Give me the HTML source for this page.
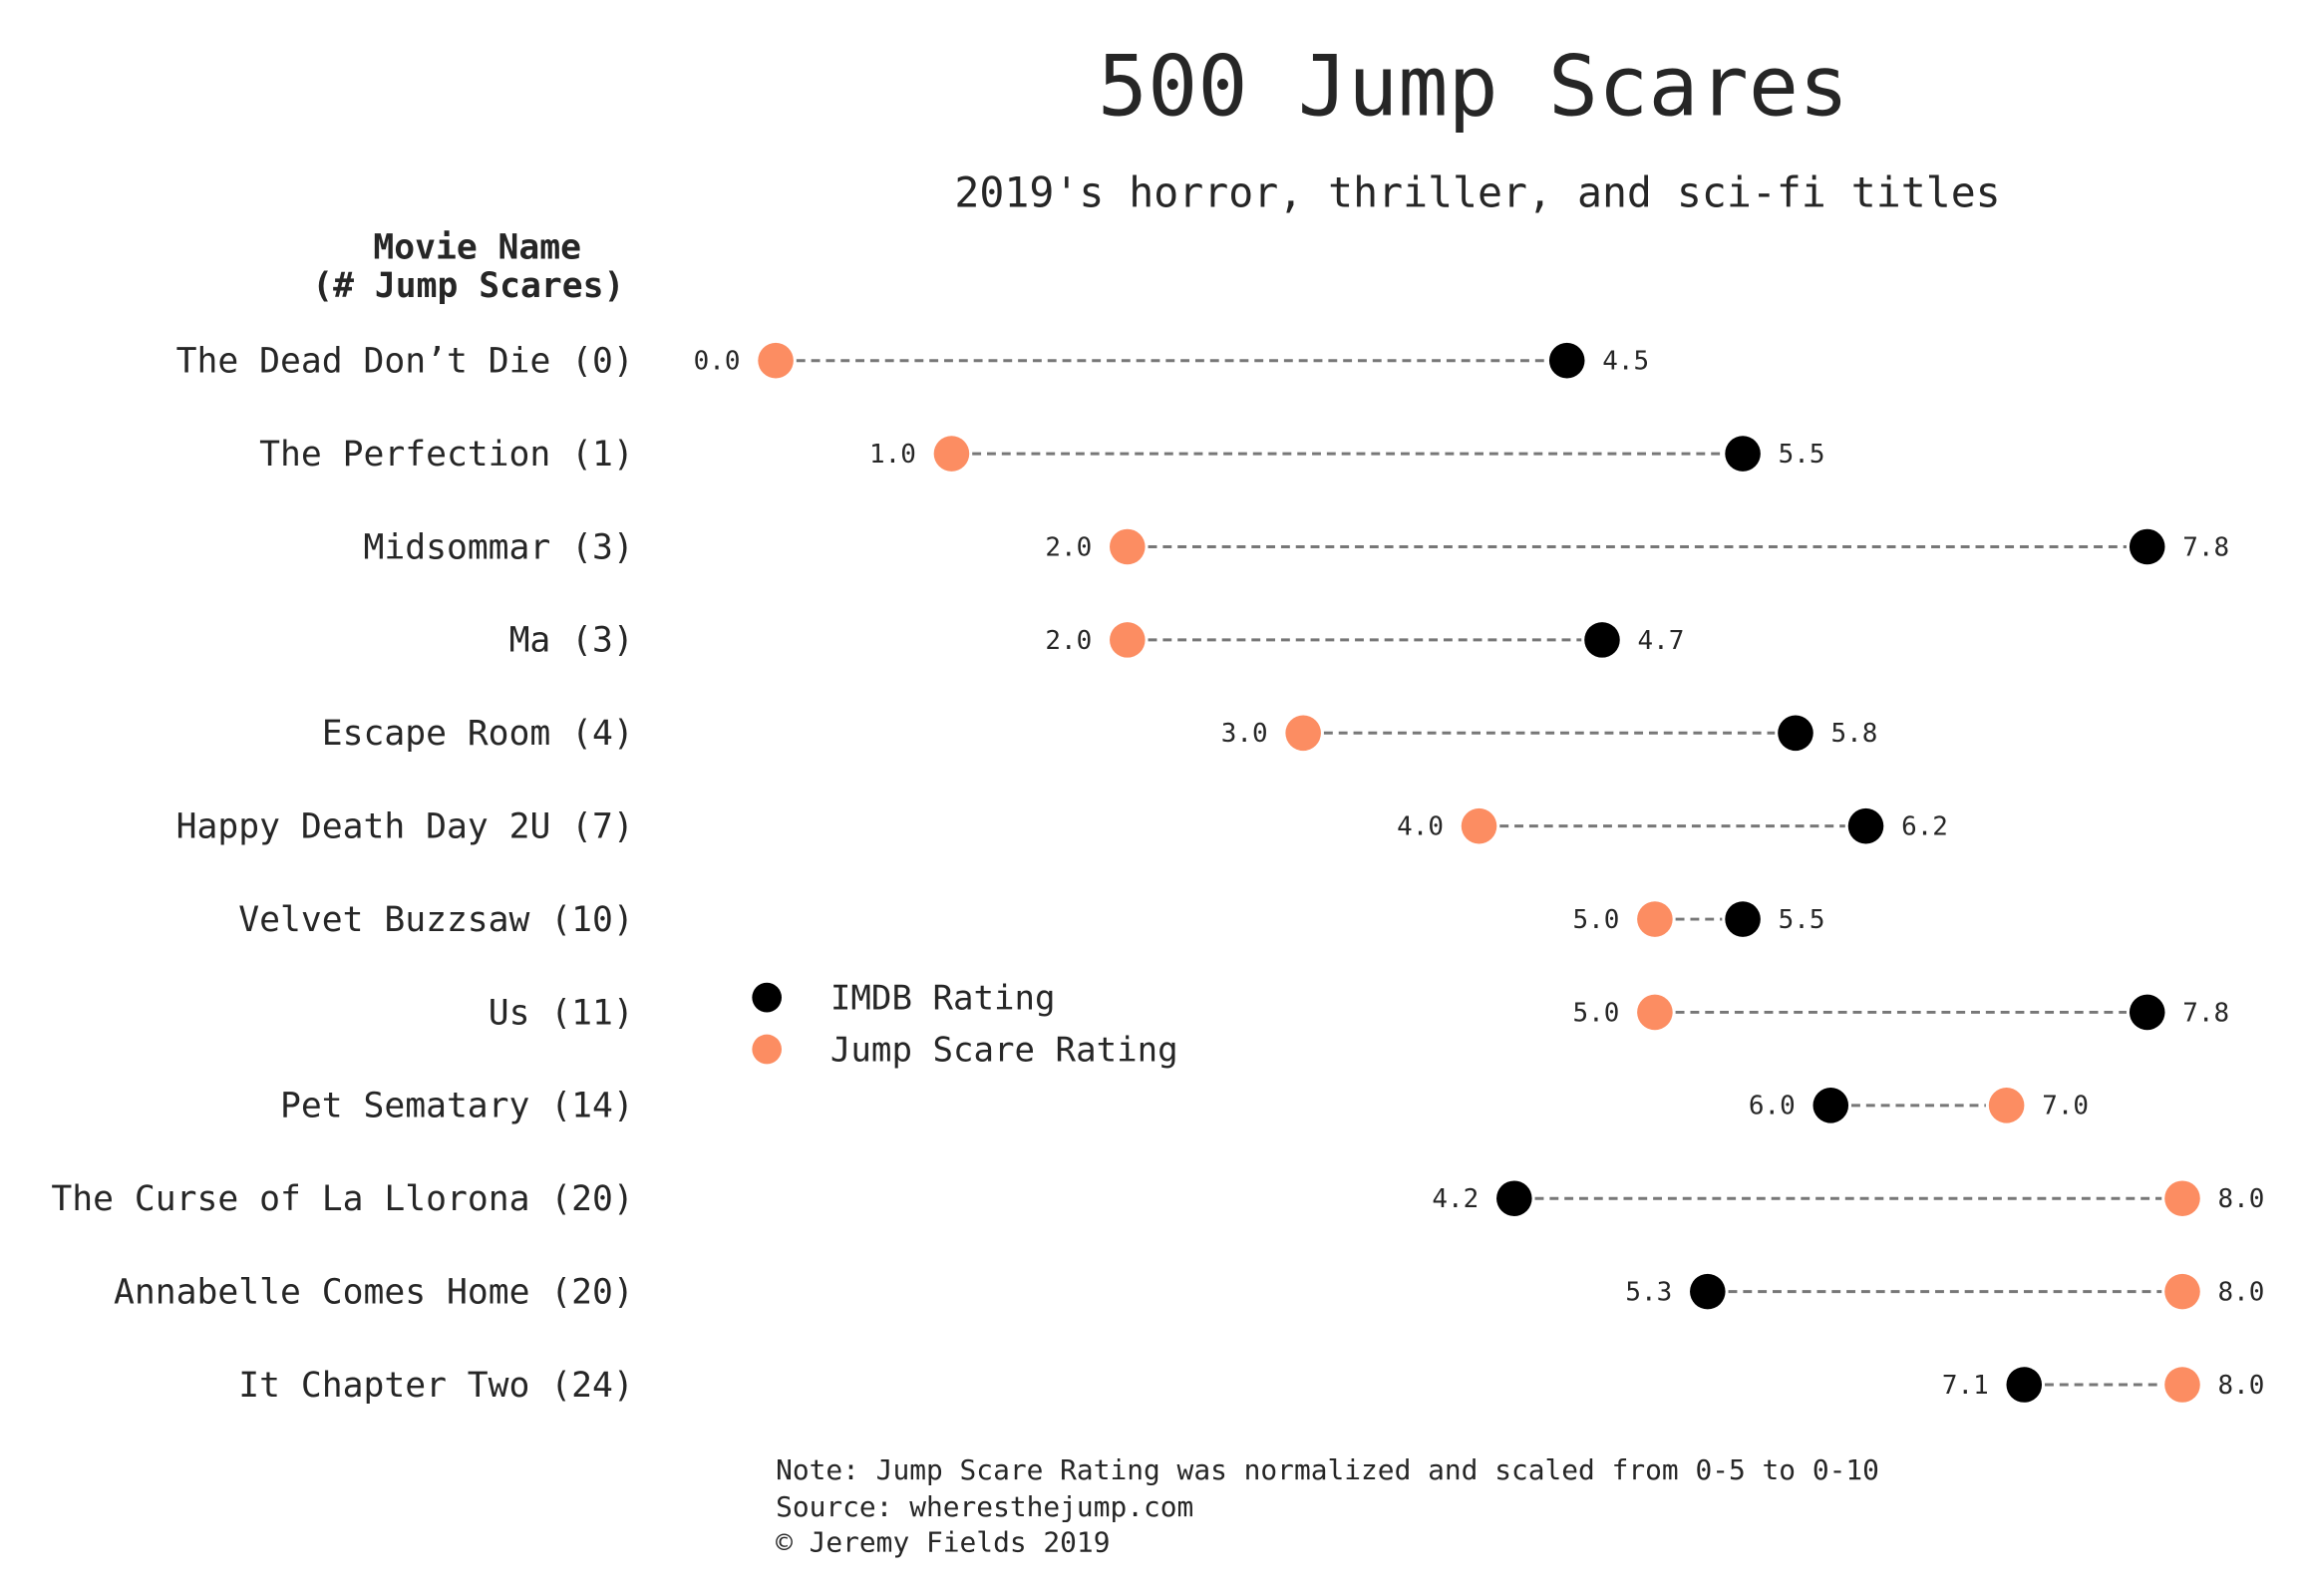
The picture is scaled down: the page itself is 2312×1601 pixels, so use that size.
<!DOCTYPE html>
<html><head><meta charset="utf-8"><style>
html,body{margin:0;padding:0;background:#fff;}
svg{display:block;}
text{font-family:"DejaVu Sans Mono","Liberation Mono",monospace;fill:#262626;}
.l{font-size:23.4px;text-anchor:end;}
.v{font-size:17.5px;}
.e{text-anchor:end;}
line{stroke:#777;stroke-width:2;stroke-dasharray:6,4;}
.k{fill:#000;}
.o{fill:#fc8d62;}
</style></head><body>
<svg width="2312" height="1601" viewBox="0 0 1560 1080" preserveAspectRatio="none" xmlns="http://www.w3.org/2000/svg">
<rect width="1560" height="1080" fill="#fff"/>
<text x="997" y="78" font-size="56.3" text-anchor="middle">500 Jump Scares</text>
<text x="1000" y="140" font-size="28" text-anchor="middle">2019's horror, thriller, and sci-fi titles</text>
<text x="323" y="175" font-size="23.4" font-weight="bold" text-anchor="middle">Movie Name</text>
<text x="317" y="201" font-size="23.4" font-weight="bold" text-anchor="middle">(# Jump Scares)</text>

<text class="l" x="429" y="252">The Dead Don’t Die (0)</text>
<line x1="539" y1="244" x2="1046.5" y2="244"/>
<circle class="k" cx="1060.5" cy="244" r="12"/><circle class="o" cx="525" cy="244" r="12"/>
<text class="v e" x="501" y="250">0.0</text><text class="v" x="1084.5" y="250">4.5</text>

<text class="l" x="429" y="315">The Perfection (1)</text>
<line x1="658" y1="307" x2="1165.5" y2="307"/>
<circle class="k" cx="1179.5" cy="307" r="12"/><circle class="o" cx="644" cy="307" r="12"/>
<text class="v e" x="620" y="313">1.0</text><text class="v" x="1203.5" y="313">5.5</text>

<text class="l" x="429" y="378">Midsommar (3)</text>
<line x1="777" y1="370" x2="1439.2" y2="370"/>
<circle class="k" cx="1453.2" cy="370" r="12"/><circle class="o" cx="763" cy="370" r="12"/>
<text class="v e" x="739" y="376">2.0</text><text class="v" x="1477.2" y="376">7.8</text>

<text class="l" x="429" y="441">Ma (3)</text>
<line x1="777" y1="433" x2="1070.3" y2="433"/>
<circle class="k" cx="1084.3" cy="433" r="12"/><circle class="o" cx="763" cy="433" r="12"/>
<text class="v e" x="739" y="439">2.0</text><text class="v" x="1108.3" y="439">4.7</text>

<text class="l" x="429" y="504">Escape Room (4)</text>
<line x1="896" y1="496" x2="1201.2" y2="496"/>
<circle class="k" cx="1215.2" cy="496" r="12"/><circle class="o" cx="882" cy="496" r="12"/>
<text class="v e" x="858" y="502">3.0</text><text class="v" x="1239.2" y="502">5.8</text>

<text class="l" x="429" y="567">Happy Death Day 2U (7)</text>
<line x1="1015" y1="559" x2="1248.8" y2="559"/>
<circle class="k" cx="1262.8" cy="559" r="12"/><circle class="o" cx="1001" cy="559" r="12"/>
<text class="v e" x="977" y="565">4.0</text><text class="v" x="1286.8" y="565">6.2</text>

<text class="l" x="429" y="630">Velvet Buzzsaw (10)</text>
<line x1="1134" y1="622" x2="1165.5" y2="622"/>
<circle class="k" cx="1179.5" cy="622" r="12"/><circle class="o" cx="1120" cy="622" r="12"/>
<text class="v e" x="1096" y="628">5.0</text><text class="v" x="1203.5" y="628">5.5</text>

<text class="l" x="429" y="693">Us (11)</text>
<line x1="1134" y1="685" x2="1439.2" y2="685"/>
<circle class="k" cx="1453.2" cy="685" r="12"/><circle class="o" cx="1120" cy="685" r="12"/>
<text class="v e" x="1096" y="691">5.0</text><text class="v" x="1477.2" y="691">7.8</text>

<text class="l" x="429" y="756">Pet Sematary (14)</text>
<line x1="1253" y1="748" x2="1344" y2="748"/>
<circle class="k" cx="1239" cy="748" r="12"/><circle class="o" cx="1358" cy="748" r="12"/>
<text class="v e" x="1215" y="754">6.0</text><text class="v" x="1382" y="754">7.0</text>

<text class="l" x="429" y="819">The Curse of La Llorona (20)</text>
<line x1="1038.8" y1="811" x2="1463" y2="811"/>
<circle class="k" cx="1024.8" cy="811" r="12"/><circle class="o" cx="1477" cy="811" r="12"/>
<text class="v e" x="1000.8" y="817">4.2</text><text class="v" x="1501" y="817">8.0</text>

<text class="l" x="429" y="882">Annabelle Comes Home (20)</text>
<line x1="1169.7" y1="874" x2="1463" y2="874"/>
<circle class="k" cx="1155.7" cy="874" r="12"/><circle class="o" cx="1477" cy="874" r="12"/>
<text class="v e" x="1131.7" y="880">5.3</text><text class="v" x="1501" y="880">8.0</text>

<text class="l" x="429" y="945">It Chapter Two (24)</text>
<line x1="1383.9" y1="937" x2="1463" y2="937"/>
<circle class="k" cx="1369.9" cy="937" r="12"/><circle class="o" cx="1477" cy="937" r="12"/>
<text class="v e" x="1345.9" y="943">7.1</text><text class="v" x="1501" y="943">8.0</text>

<circle cx="519" cy="675" r="10" fill="#000"/>
<circle cx="519" cy="710" r="10" fill="#fc8d62"/>
<text x="562" y="683" font-size="23">IMDB Rating</text>
<text x="562" y="718" font-size="23">Jump Scare Rating</text>
<text x="525" y="1001" font-size="18.8">Note: Jump Scare Rating was normalized and scaled from 0-5 to 0-10</text>
<text x="525" y="1026" font-size="18.8">Source: wheresthejump.com</text>
<text x="525" y="1050" font-size="18.8">© Jeremy Fields 2019</text>
</svg>
</body></html>
